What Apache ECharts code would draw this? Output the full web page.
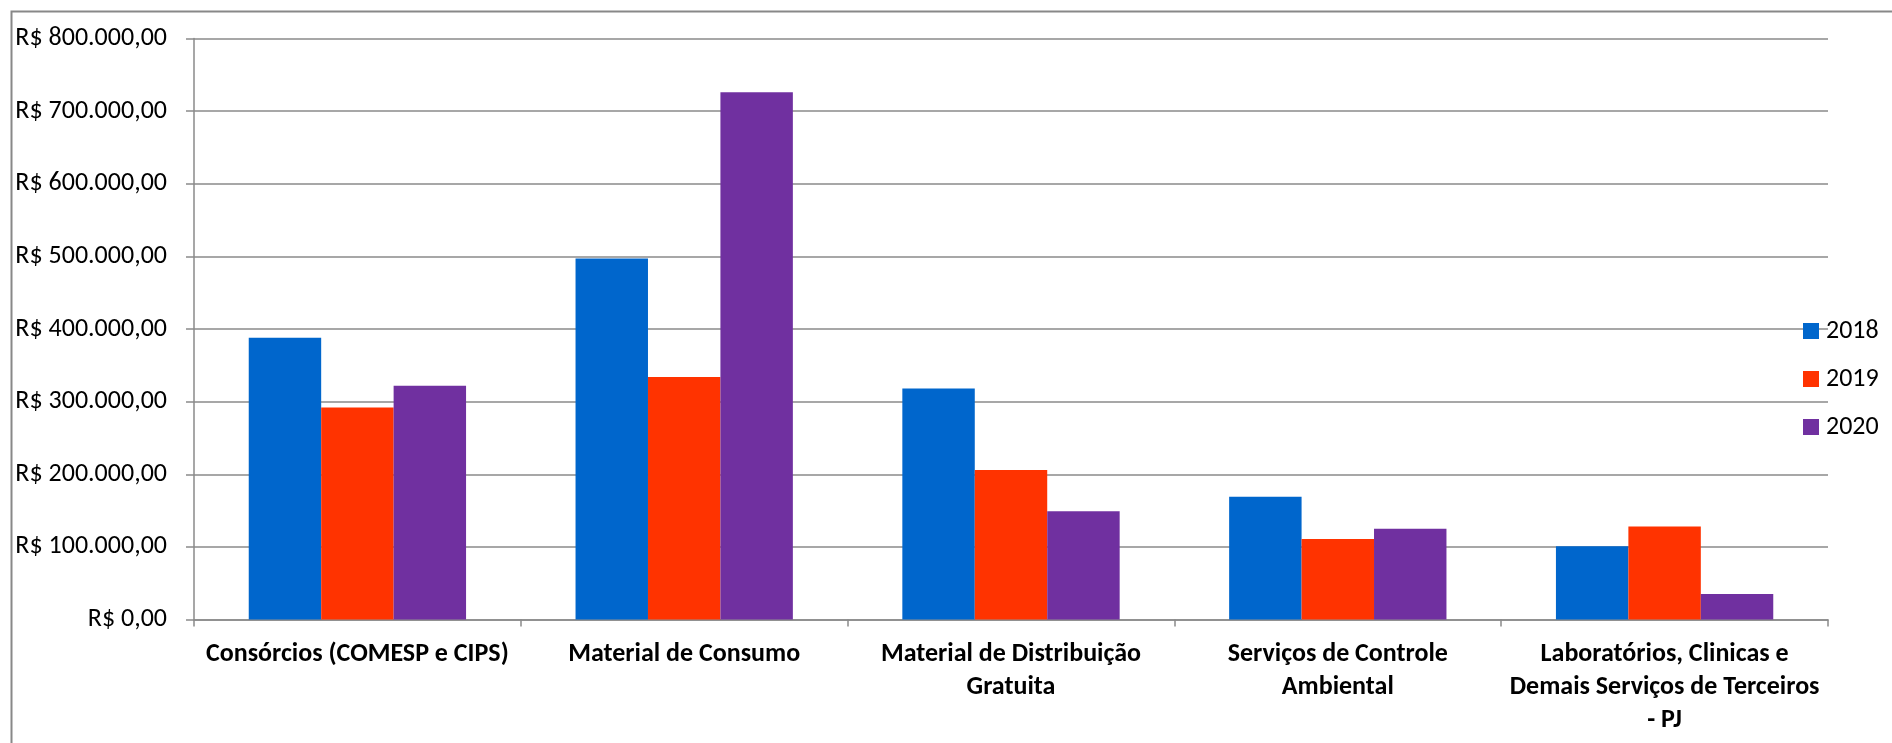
<!DOCTYPE html>
<html>
<head>
<meta charset="utf-8">
<script src="https://cdn.jsdelivr.net/npm/echarts@6/dist/echarts.min.js"></script>
<style>
html,body{margin:0;padding:0;background:#fff;}
#chart{width:1892px;height:743px;}
</style>
</head>
<body>
<div id="chart"></div>
<script>
const categories = [
  'Consórcios (COMESP e CIPS)',
  'Material de Consumo',
  'Material de Distribuição\nGratuita',
  'Serviços de Controle\nAmbiental',
  'Laboratórios, Clinicas e\nDemais Serviços de Terceiros\n- PJ'
];
const seriesNames = ['2018', '2019', '2020'];
const values2018 = [388000, 497000, 318000, 169000, 101000];
const values2019 = [292000, 334000, 206000, 111000, 128000];
const values2020 = [322000, 726000, 149000, 125000, 35000];
const yTicks = [0, 100000, 200000, 300000, 400000, 500000, 600000, 700000, 800000];
const colors = ['#0066CC', '#FF3300', '#7030A0'];

const FONT = "Carlito, Calibri, Lato, 'Open Sans', sans-serif";

function brl(v) {
  const s = Math.round(v).toString().replace(/\B(?=(\d{3})+(?!\d))/g, '.');
  return 'R$ ' + s + ',00';
}

const chart = echarts.init(document.getElementById('chart'), null, {renderer: 'canvas'});
const gridColor = '#8a8a8a';
const data = [values2018, values2019, values2020];

chart.setOption({
  backgroundColor: '#ffffff',
  animation: false,
  color: colors,
  graphic: [{
    type: 'rect',
    left: 9, top: 9,
    shape: {width: 1950, height: 800},
    style: {fill: 'none', stroke: '#888888', lineWidth: 2},
    silent: true
  }],
  grid: {left: 194, right: 64, top: 38.5, bottom: 123.5, containLabel: false},
  legend: {
    orient: 'vertical',
    left: 1803,
    top: 318,
    padding: 0,
    itemWidth: 16,
    itemHeight: 16,
    itemGap: 22,
    icon: 'rect',
    data: seriesNames,
    textStyle: {fontFamily: FONT, fontSize: 26, color: '#000', lineHeight: 26, padding: [0, 0, 0, 2]}
  },
  xAxis: {
    type: 'category',
    data: categories,
    axisLine: {lineStyle: {color: gridColor, width: 1.5}},
    axisTick: {show: true, length: 7, lineStyle: {color: gridColor, width: 1.5}},
    axisLabel: {
      interval: 0,
      margin: 18,
      fontFamily: FONT,
      fontSize: 26,
      fontWeight: 'bold',
      color: '#000',
      lineHeight: 33,
      align: 'center'
    }
  },
  yAxis: {
    type: 'value',
    min: yTicks[0],
    max: yTicks[yTicks.length - 1],
    interval: yTicks[1] - yTicks[0],
    axisLine: {show: true, lineStyle: {color: gridColor, width: 1.5}},
    axisTick: {show: true, length: 8, lineStyle: {color: gridColor, width: 1.5}},
    splitLine: {show: true, lineStyle: {color: gridColor, width: 1.5}},
    axisLabel: {
      margin: 27,
      fontFamily: FONT,
      fontSize: 26,
      color: '#000',
      formatter: brl
    }
  },
  series: seriesNames.map((name, i) => ({
    name: name,
    type: 'bar',
    data: data[i],
    barGap: '0%',
    barCategoryGap: '33.5%',
    itemStyle: {color: colors[i]}
  }))
});
</script>
</body>
</html>
